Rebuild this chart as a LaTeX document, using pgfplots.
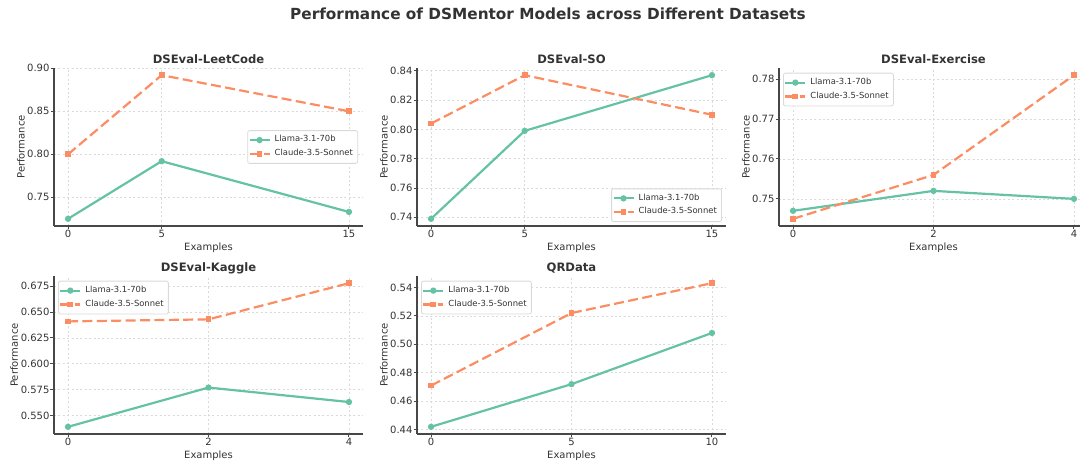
\documentclass[border=0pt]{standalone}
\usepackage{fontspec}
\setmainfont{DejaVu Sans}
\usepackage{pgfplots}
\pgfplotsset{compat=1.18}
\definecolor{cgreen}{HTML}{66C2A5}
\definecolor{corange}{HTML}{FC8D62}
\definecolor{txt}{HTML}{333333}
\definecolor{gridc}{HTML}{DADADA}
\pgfplotsset{
  myax/.style={
    scale only axis, width=154.5pt, height=79pt, anchor=south west,
    axis lines*=left, axis line style={-, draw=txt!90, line width=0.65pt},
    major tick length=1.75pt, tick align=outside, tick style={txt!90, line width=0.5pt},
    grid=major, major grid style={dash pattern=on 1pt off 1.2pt, gridc, line width=0.3pt},
    tick label style={font=\fontsize{5pt}{6pt}\selectfont, text=txt},
    xticklabel style={yshift=3.3pt},
    yticklabel style={xshift=3pt},
    /pgf/number format/assume math mode=true,
    label style={font=\fontsize{5pt}{6pt}\selectfont, text=txt},
    xlabel={Examples}, ylabel={Performance},
    xlabel style={at={(axis description cs:0.5,-0.137)}, anchor=center},
    ylabel style={at={(axis description cs:-0.107,0.5)}, anchor=center},
    every axis title/.style={font=\bfseries\fontsize{5.8pt}{7pt}\selectfont, text=txt, at={(0.5,1)}, anchor=base, yshift=2pt},
    legend style={font=\fontsize{4.2pt}{5pt}\selectfont, text=txt, draw=black!15, rounded corners=1pt, fill=white, inner sep=0.4pt, row sep=-1.8pt, line width=0.4pt},
    legend cell align=left,
    legend image code/.code={\draw[mark repeat=2,mark phase=2] plot coordinates {(0pt,0pt) (5pt,0pt) (10pt,0pt)};},
  },
  llama/.style={cgreen, line width=1.1pt, mark=*, mark size=1pt, mark options={solid}},
  claude/.style={corange, line width=1.1pt, dash pattern=on 5pt off 2.2pt, mark=square*, mark size=0.9pt, mark options={solid}},
}
\begin{document}
\begin{tikzpicture}
\useasboundingbox (0,0) rectangle (540pt,232.5pt);
\node[font=\bfseries\fontsize{7.65pt}{9pt}\selectfont, text=txt] at (274pt,225.5pt) {Performance of DSMentor Models across Different Datasets};

% LeetCode
\begin{axis}[myax, at={(27pt,119.5pt)}, title={DSEval-LeetCode},
  xmin=-0.75, xmax=15.75, ymin=0.71665, ymax=0.90035,
  xtick={0,5,15}, ytick={0.75,0.80,0.85,0.90},
  yticklabel style={/pgf/number format/.cd, fixed, fixed zerofill, precision=2},
  legend style={at={(0.984,0.5)}, anchor=east}]
\addplot[llama] coordinates {(0,0.725) (5,0.792) (15,0.733)};
\addplot[claude] coordinates {(0,0.800) (5,0.892) (15,0.850)};
\legend{Llama-3.1-70b, Claude-3.5-Sonnet}
\end{axis}

% SO
\begin{axis}[myax, at={(208.5pt,119.5pt)}, title={DSEval-SO},
  xmin=-0.75, xmax=15.75, ymin=0.7341, ymax=0.8419,
  xtick={0,5,15}, ytick={0.74,0.76,0.78,0.80,0.82,0.84},
  yticklabel style={/pgf/number format/.cd, fixed, fixed zerofill, precision=2},
  legend style={at={(0.987,0.025)}, anchor=south east}]
\addplot[llama] coordinates {(0,0.739) (5,0.799) (15,0.837)};
\addplot[claude] coordinates {(0,0.804) (5,0.837) (15,0.810)};
\legend{Llama-3.1-70b, Claude-3.5-Sonnet}
\end{axis}

% Exercise
\begin{axis}[myax, at={(389.5pt,119.5pt)}, title={DSEval-Exercise},
  xmin=-0.2, xmax=4.2, ymin=0.7432, ymax=0.7828,
  xtick={0,2,4}, ytick={0.75,0.76,0.77,0.78},
  yticklabel style={/pgf/number format/.cd, fixed, fixed zerofill, precision=2},
  legend style={at={(0.013,0.97)}, anchor=north west}]
\addplot[llama] coordinates {(0,0.747) (2,0.752) (4,0.750)};
\addplot[claude] coordinates {(0,0.745) (2,0.756) (4,0.781)};
\legend{Llama-3.1-70b, Claude-3.5-Sonnet}
\end{axis}

% Kaggle
\begin{axis}[myax, at={(27pt,15.5pt)}, title={DSEval-Kaggle},
  xmin=-0.2, xmax=4.2, ymin=0.53205, ymax=0.68495,
  xtick={0,2,4}, ytick={0.550,0.575,0.600,0.625,0.650,0.675},
  yticklabel style={/pgf/number format/.cd, fixed, fixed zerofill, precision=3},
  ylabel style={at={(axis description cs:-0.129,0.5)}, anchor=center},
  legend style={at={(0.013,0.97)}, anchor=north west}]
\addplot[llama] coordinates {(0,0.539) (2,0.577) (4,0.563)};
\addplot[claude] coordinates {(0,0.641) (2,0.643) (4,0.678)};
\legend{Llama-3.1-70b, Claude-3.5-Sonnet}
\end{axis}

% QRData
\begin{axis}[myax, at={(208.5pt,15.5pt)}, title={QRData},
  xmin=-0.5, xmax=10.5, ymin=0.43695, ymax=0.54805,
  xtick={0,5,10}, ytick={0.44,0.46,0.48,0.50,0.52,0.54},
  yticklabel style={/pgf/number format/.cd, fixed, fixed zerofill, precision=2},
  legend style={at={(0.013,0.97)}, anchor=north west}]
\addplot[llama] coordinates {(0,0.442) (5,0.472) (10,0.508)};
\addplot[claude] coordinates {(0,0.471) (5,0.522) (10,0.543)};
\legend{Llama-3.1-70b, Claude-3.5-Sonnet}
\end{axis}
\end{tikzpicture}
\end{document}
